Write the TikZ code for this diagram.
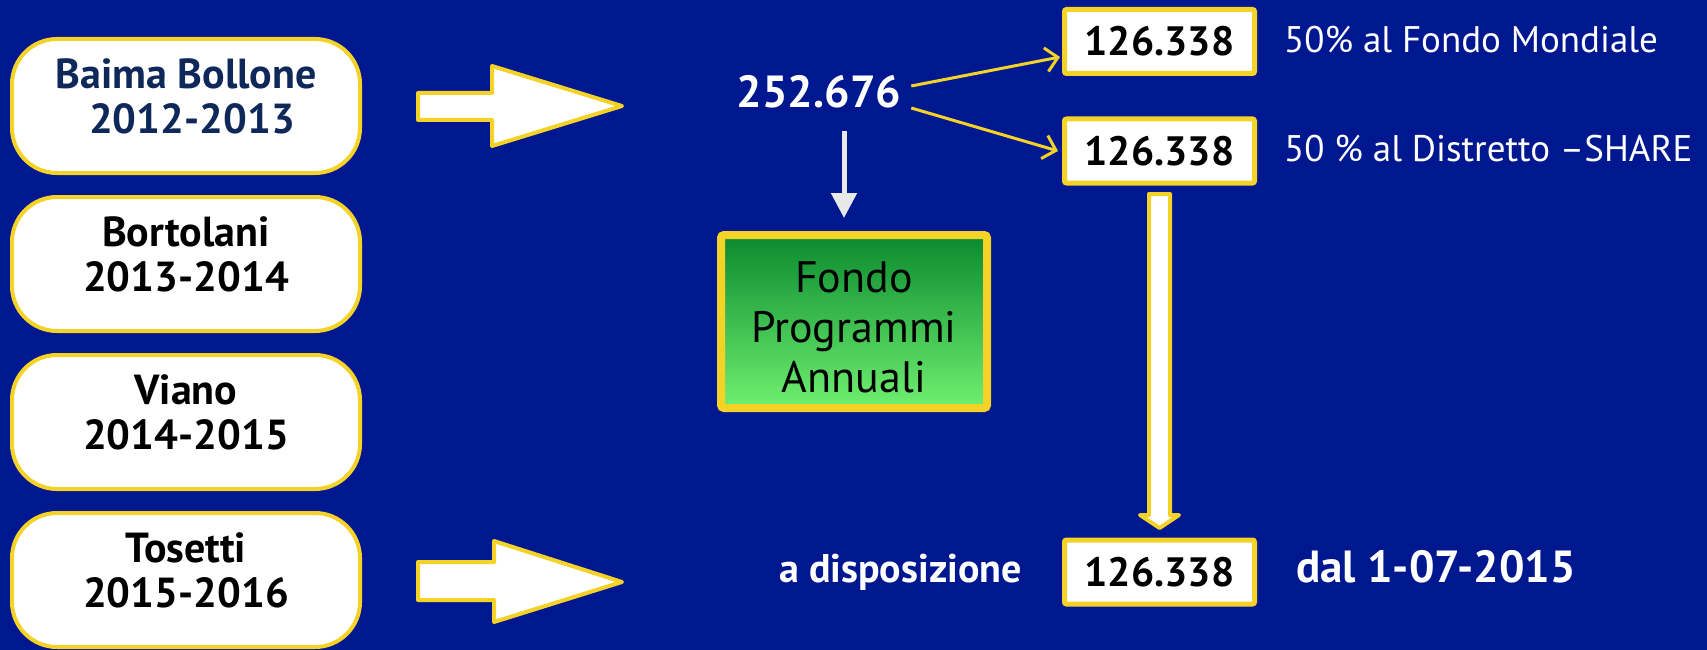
\documentclass[tikz,border=0pt]{standalone}
\usepackage{fontspec}
\setmainfont{PT Sans}
\usetikzlibrary{arrows.meta,calc}
\definecolor{bg}{RGB}{0,24,143}
\definecolor{ylw}{RGB}{245,210,40}
\definecolor{navy}{RGB}{15,40,90}
\definecolor{gtop}{RGB}{10,138,46}
\definecolor{gbot}{RGB}{112,240,112}
\definecolor{lgray}{RGB}{232,232,232}
\begin{document}
\begin{tikzpicture}[x=1pt,y=-1pt,
  yearbox/.style={draw=ylw,line width=4pt,fill=white,rounded corners=45pt,minimum width=348pt,minimum height=134pt,inner sep=0pt},
  yeartext/.style={font=\bfseries\fontsize{42}{45}\selectfont,align=center,inner sep=0pt},
  numbox/.style={draw=ylw,line width=5pt,fill=white,rounded corners=2pt,minimum width=190pt,minimum height=64pt,inner sep=0pt,font=\bfseries\fontsize{41}{41}\selectfont},
  blockarrow/.style={draw=ylw,line width=4pt,fill=white,line join=round},
  thinarrow/.style={draw=ylw,line width=3pt,-{Straight Barb[length=12pt,width=24pt,line width=3pt]}},
  wlabel/.style={text=white,inner sep=0pt,font=\fontsize{37}{37}\selectfont}
]
\fill[bg] (0,0) rectangle (1707,650);
\useasboundingbox (0,0) rectangle (1707,650);

% year boxes
\node[yearbox] (b1) at (186,106) {};
\node[yeartext,text=navy] (b1t) at ([yshift=10pt]b1.center) {Baima Bollone\\\hspace*{12pt}2012-2013};
\node[yearbox] (b2) at (186,264) {};
\node[yeartext] (b2t) at ([yshift=10pt]b2.center) {Bortolani\\2013-2014};
\node[yearbox] (b3) at (186,422) {};
\node[yeartext] (b3t) at ([yshift=10pt]b3.center) {Viano\\2014-2015};
\node[yearbox] (b4) at (186,580) {};
\node[yeartext] (b4t) at ([yshift=10pt]b4.center) {Tosetti\\2015-2016};

% block arrows
\draw[blockarrow] (418,93) -- (492,93) -- (492,66) -- (622,106) -- (492,146) -- (492,120) -- (418,120) -- cycle;
\draw[blockarrow] (418,562) -- (494,562) -- (494,541) -- (622,582) -- (494,622) -- (494,600) -- (418,600) -- cycle;

% total
\node[text=white,inner sep=0pt,font=\bfseries\fontsize{45}{45}\selectfont] (n252) at (819,92) {252.676};

% number boxes
\node[numbox] (bx1) at (1159.5,41.5) {126.338};
\node[numbox] (bx2) at (1159.5,151) {126.338};
\node[numbox] (bx3) at (1159.5,572) {126.338};

% labels
\node[wlabel,anchor=west] (l1) at (1284,40) {50\% al Fondo Mondiale};
\node[wlabel,anchor=west] (l2) at (1284,149) {50 \% al Distretto –SHARE};
\node[text=white,inner sep=0pt,anchor=base west,font=\bfseries\fontsize{40}{40}\selectfont] (disp) at (779,582) {a disposizione};
\node[text=white,inner sep=0pt,anchor=base west,font=\bfseries\fontsize{45}{45}\selectfont] (dal) at (1296,582) {dal 1-07-2015};

% green box
\node[draw=ylw,line width=8pt,rounded corners=3pt,top color=gtop,bottom color=gbot,minimum width=266pt,minimum height=173pt,inner sep=0pt] (fpa) at (854,321.5) {};
\node[inner sep=0pt,align=center,font=\fontsize{44}{50}\selectfont] (fpat) at ([yshift=-6pt]fpa.center) {Fondo\\Programmi\\Annuali};

% thin arrows
\draw[thinarrow] ([xshift=10pt,yshift=6pt]n252.east) -- ([xshift=-2pt,yshift=-15.5pt]bx1.west);
\draw[thinarrow] ([xshift=10pt,yshift=-16pt]n252.east) -- ([xshift=-4pt]bx2.west);

% gray arrow
\coordinate (ga) at ([xshift=25pt]n252.south);
\draw[lgray,line width=5pt,-{Triangle[length=25pt,width=25pt]},shorten <=22pt,shorten >=13pt] (ga) -- (ga |- fpa.north);

% big down arrow
\draw[blockarrow] (1149,194) -- (1170,194) -- (1170,515) -- (1179,515) -- (1159.5,528) -- (1140,515) -- (1149,515) -- cycle;
\end{tikzpicture}
\end{document}
